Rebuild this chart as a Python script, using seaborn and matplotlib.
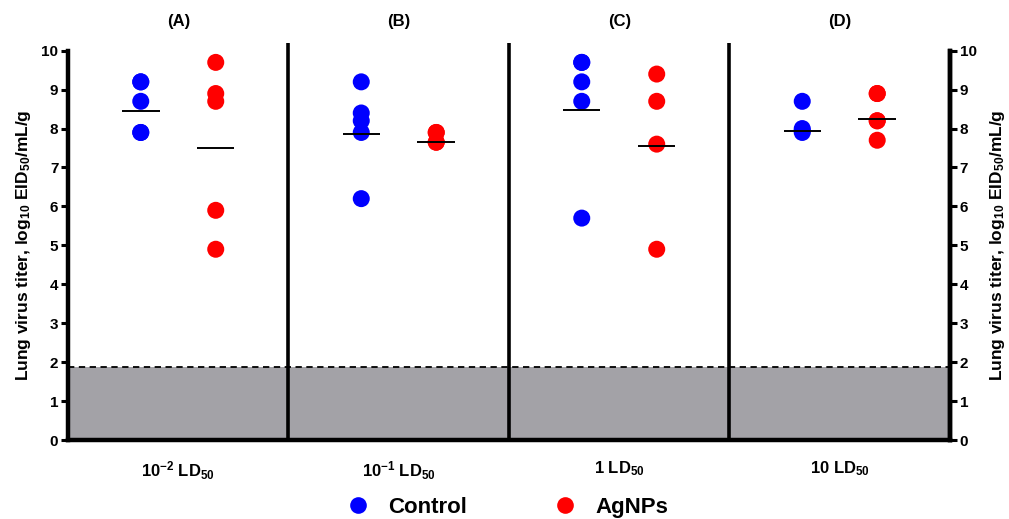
import numpy as np
import pandas as pd
import matplotlib
matplotlib.use("Agg")
import matplotlib.pyplot as plt
import matplotlib.transforms as mtransforms
import seaborn as sns
from matplotlib.lines import Line2D

# values
doses = ["10$^{-2}$ LD$_{50}$", "10$^{-1}$ LD$_{50}$", "1 LD$_{50}$", "10 LD$_{50}$"]
panels = ["(A)", "(B)", "(C)", "(D)"]
groups = ["Control", "AgNPs"]
control_titers = [
    [9.2, 9.2, 8.7, 7.9, 7.9],
    [9.2, 8.4, 8.2, 7.9, 6.2],
    [9.7, 9.7, 9.2, 8.7, 5.7],
    [8.7, 8.0, 7.95, 7.9],
]
agnp_titers = [
    [9.7, 8.9, 8.7, 5.9, 4.9],
    [7.9, 7.9, 7.65, 7.65],
    [9.4, 8.7, 7.6, 4.9],
    [8.9, 8.9, 8.2, 8.2, 7.7],
]
control_means = [8.46, 7.85, 8.48, 7.94]
agnp_means = [7.49, 7.65, 7.54, 8.25]
detection_limit = 1.88

rows = []
for i, dose in enumerate(doses):
    for v in control_titers[i]:
        rows.append({"dose": i, "group": "Control", "titer": v})
    for v in agnp_titers[i]:
        rows.append({"dose": i, "group": "AgNPs", "titer": v})
df = pd.DataFrame(rows)
offset = {"Control": -0.17, "AgNPs": 0.17}
df["xpos"] = df["dose"] + df["group"].map(offset)

sns.set_style("white")
plt.rcParams["font.family"] = ["Liberation Sans", "DejaVu Sans"]
plt.rcParams["font.weight"] = "bold"
plt.rcParams["text.color"] = "black"
plt.rcParams["axes.labelcolor"] = "black"
plt.rcParams["xtick.color"] = "black"
plt.rcParams["ytick.color"] = "black"
plt.rcParams["mathtext.fontset"] = "custom"
plt.rcParams["mathtext.rm"] = "Liberation Sans:bold"
plt.rcParams["mathtext.bf"] = "Liberation Sans:bold"
plt.rcParams["mathtext.default"] = "bf"

palette = {"Control": "#0000ff", "AgNPs": "#ff0000"}

fig = plt.figure(figsize=(10.09, 5.19), dpi=100)
ax = fig.add_axes([0.0674, 0.1522, 0.8741, 0.7501])

ax.axhspan(0, detection_limit, color="#a3a2a7", zorder=0, lw=0)
ax.axhline(detection_limit, color="black", ls=(0, (3.5, 2.5)), lw=1.3, zorder=1)
ax.vlines([0.5, 1.5, 2.5], 0, 10.2, color="black", lw=2.6, clip_on=False, zorder=2)

sns.scatterplot(data=df, x="xpos", y="titer", hue="group", palette=palette,
                s=150, linewidth=0, legend=False, ax=ax, zorder=3)

for i in range(len(doses)):
    ax.hlines(control_means[i], i + offset["Control"] - 0.085, i + offset["Control"] + 0.085,
              color="black", lw=1.4, zorder=4)
    ax.hlines(agnp_means[i], i + offset["AgNPs"] - 0.085, i + offset["AgNPs"] + 0.085,
              color="black", lw=1.4, zorder=4)

ax.set_xlim(-0.5, 3.5)
ax.set_ylim(0, 10)
ax.set_xticks(range(len(doses)))
ax.set_xticklabels(doses, fontsize=12, fontweight="bold", color="black")
ax.tick_params(axis="x", length=0, pad=14)
ax.set_yticks(range(0, 11))
ax.tick_params(axis="y", length=5, width=2.2, pad=2, labelsize=11)
ax.set_xlabel("")
ax.set_ylabel("Lung virus titer, log$_{10}$ EID$_{50}$/mL/g", fontsize=12.5,
              fontweight="bold", labelpad=6, color="black")
for s in ["left", "bottom", "right"]:
    ax.spines[s].set_linewidth(3.2)
    ax.spines[s].set_color("black")
ax.spines["top"].set_visible(False)

ax2 = ax.twinx()
ax2.set_ylim(0, 10)
ax2.set_yticks(range(0, 11))
ax2.tick_params(axis="y", length=5, width=2.2, pad=2, labelsize=11)
ax2.set_ylabel("Lung virus titer, log$_{10}$ EID$_{50}$/mL/g", fontsize=12.5,
               fontweight="bold", labelpad=8, color="black")
for s in ["left", "bottom", "top"]:
    ax2.spines[s].set_visible(False)
ax2.spines["right"].set_linewidth(3.2)
ax2.spines["right"].set_color("black")
for lab in ax.get_yticklabels() + ax2.get_yticklabels():
    lab.set_fontweight("bold")
    lab.set_color("black")

trans = mtransforms.blended_transform_factory(ax.transData, ax.transAxes)
for i, p in enumerate(panels):
    ax.text(i, 1.074, p, transform=trans, ha="center", va="center",
            fontsize=12, fontweight="bold", color="black")

handles = [Line2D([0], [0], marker="o", color="w", markerfacecolor=palette[g],
                  markeredgewidth=0, markersize=12, label=g) for g in groups]
leg = fig.legend(handles=handles, loc="center", bbox_to_anchor=(0.503, 0.023), ncol=2,
                 frameon=False, handlelength=1.0, handletextpad=0.85, columnspacing=3.9,
                 prop={"size": 16, "weight": "bold"})
for t in leg.get_texts():
    t.set_color("black")

fig.savefig("out.png", dpi=100)
